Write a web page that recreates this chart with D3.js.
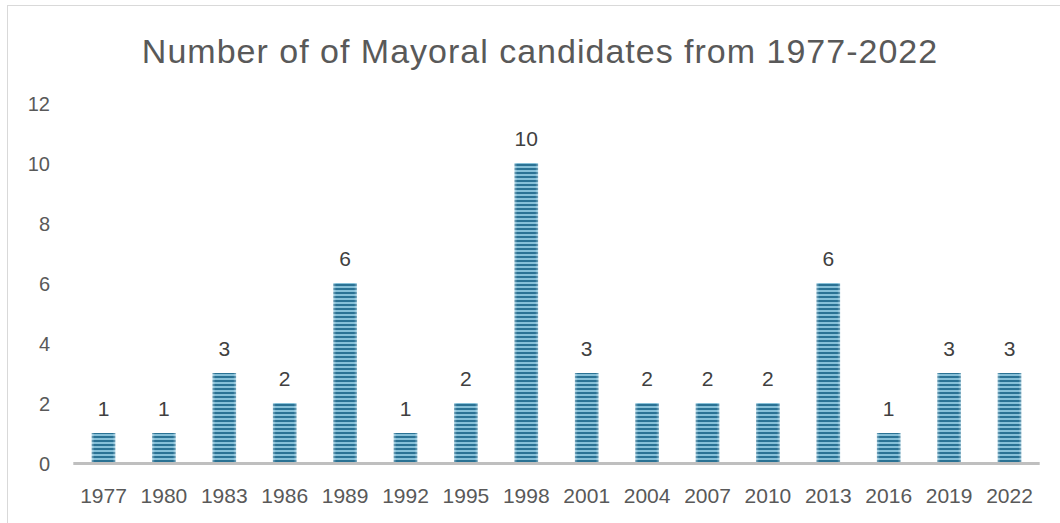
<!DOCTYPE html>
<html>
<head>
<meta charset="utf-8">
<script src="https://cdn.jsdelivr.net/npm/d3@7"></script>
<style>
  html, body { margin: 0; padding: 0; background: #fff; }
  svg { display: block; }
</style>
</head>
<body>
<svg id="chart" width="1060" height="523"></svg>
<script>
// Election years and number of mayoral candidates in each
const years = ["1977","1980","1983","1986","1989","1992","1995","1998","2001","2004","2007","2010","2013","2016","2019","2022"];
const candidates = [1, 1, 3, 2, 6, 1, 2, 10, 3, 2, 2, 2, 6, 1, 3, 3];
const yTicks = [0, 2, 4, 6, 8, 10, 12];
const titleText = "Number of of Mayoral candidates from 1977-2022";

const data = years.map((y, i) => ({ year: y, value: candidates[i] }));

const W = 1060, H = 523;
const svg = d3.select("#chart");
const FONT = "'Liberation Sans', Arial, sans-serif";

// chart frame
svg.append("rect")
  .attr("x", 7.5).attr("y", 5.5)
  .attr("width", W).attr("height", H)
  .attr("fill", "#fff").attr("stroke", "#d9d9d9").attr("stroke-width", 1);

// striped fill for the bars
const defs = svg.append("defs");
const pat = defs.append("pattern")
  .attr("id", "stripes").attr("patternUnits", "userSpaceOnUse")
  .attr("width", 8).attr("height", 4);
pat.append("rect").attr("width", 8).attr("height", 4).attr("fill", "#86c0d8");
pat.append("rect").attr("width", 8).attr("height", 2).attr("fill", "#2a7294");

const edge = defs.append("linearGradient").attr("id", "edgeShade")
  .attr("x1", "0").attr("x2", "1").attr("y1", "0").attr("y2", "0");
edge.append("stop").attr("offset", "0").attr("stop-color", "#fff").attr("stop-opacity", 0.35);
edge.append("stop").attr("offset", "0.12").attr("stop-color", "#fff").attr("stop-opacity", 0);
edge.append("stop").attr("offset", "0.88").attr("stop-color", "#fff").attr("stop-opacity", 0);
edge.append("stop").attr("offset", "1").attr("stop-color", "#fff").attr("stop-opacity", 0.35);

const plot = { left: 73.3, right: 1039.7, top: 103, bottom: 463 };

const x = d3.scaleBand()
  .domain(years)
  .range([plot.left, plot.right])
  .paddingInner(0.61)
  .paddingOuter(0.305);

const y = d3.scaleLinear()
  .domain([0, 12])
  .range([plot.bottom, plot.top]);

// title
svg.append("text")
  .attr("x", 540).attr("y", 62.5)
  .attr("text-anchor", "middle")
  .attr("font-family", FONT)
  .attr("font-size", 34)
  .attr("letter-spacing", 1)
  .attr("fill", "#595959")
  .text(titleText);

// y axis labels (no line, no ticks)
const yAxis = d3.axisLeft(y).tickValues(yTicks).tickSize(0).tickPadding(0);
const gy = svg.append("g").attr("transform", "translate(50,0)").call(yAxis);
gy.select(".domain").remove();
gy.selectAll("text")
  .attr("dy", "0.36em")
  .attr("font-family", FONT).attr("font-size", 20).attr("fill", "#595959");

// bars
const bars = svg.append("g");
bars.selectAll("rect.bar")
  .data(data).join("rect")
  .attr("class", "bar")
  .attr("x", d => x(d.year))
  .attr("y", d => y(d.value))
  .attr("width", x.bandwidth())
  .attr("height", d => y(0) - y(d.value))
  .attr("fill", "url(#stripes)");
bars.selectAll("rect.shade")
  .data(data).join("rect")
  .attr("class", "shade")
  .attr("x", d => x(d.year))
  .attr("y", d => y(d.value))
  .attr("width", x.bandwidth())
  .attr("height", d => y(0) - y(d.value))
  .attr("fill", "url(#edgeShade)");

// x axis
const xAxis = d3.axisBottom(x).tickSize(0).tickPadding(0);
const gx = svg.append("g").attr("transform", `translate(0,${plot.bottom})`).call(xAxis);
gx.select(".domain").remove();
gx.append("line")
  .attr("x1", plot.left).attr("x2", plot.right)
  .attr("y1", 0.5).attr("y2", 0.5)
  .attr("stroke", "#bfbfbf").attr("stroke-width", 3);
gx.selectAll(".tick text")
  .attr("dy", 0).attr("y", 39.5)
  .attr("font-family", FONT).attr("font-size", 21).attr("fill", "#595959");

// value labels
svg.append("g").selectAll("text")
  .data(data).join("text")
  .attr("x", d => x(d.year) + x.bandwidth() / 2)
  .attr("y", d => y(d.value) - 17)
  .attr("text-anchor", "middle")
  .attr("font-family", FONT)
  .attr("font-size", 21)
  .attr("fill", "#404040")
  .text(d => d.value);
</script>
</body>
</html>
